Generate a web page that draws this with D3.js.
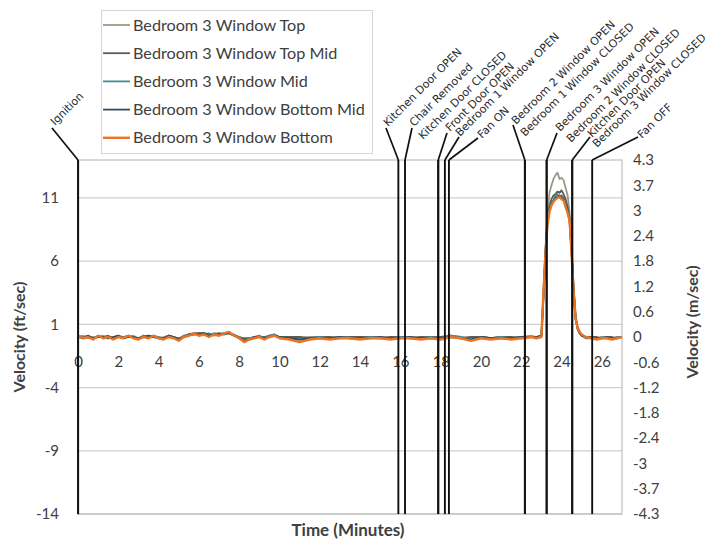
<!DOCTYPE html>
<html>
<head>
<meta charset="utf-8">
<script src="https://cdn.jsdelivr.net/npm/d3@7"></script>
<style>
  body { margin: 0; background: #fff; }
  svg { display: block; }
</style>
</head>
<body>
<svg id="chart" width="708" height="546"></svg>
<script>
// ---- data ----
const seriesNames = [
  "Bedroom 3 Window Top",
  "Bedroom 3 Window Top Mid",
  "Bedroom 3 Window Mid",
  "Bedroom 3 Window Bottom Mid",
  "Bedroom 3 Window Bottom"
];

// sample times (minutes)
const times = [
  0,0.25,0.5,0.75,1,1.25,1.5,1.75,2,2.25,2.5,2.75,3,3.25,3.5,3.75,4,4.25,4.5,4.75,
  5,5.25,5.5,5.75,6,6.25,6.5,6.75,7,7.25,7.5,7.75,8,8.25,8.5,8.75,9,9.25,9.5,9.75,10,
  10.5,11,11.5,12,12.5,13,13.5,14,14.5,15,15.5,16,16.5,17,17.5,18,18.5,19,19.5,20,20.5,21,21.5,22,22.5,
  22.75,23,23.1,23.2,23.3,23.4,23.5,23.6,23.7,23.8,23.9,24,24.1,24.2,24.3,24.4,24.5,24.6,24.7,24.8,24.9,25,25.2,
  25.5,25.75,26,26.25,26.5,26.75,27
];

// velocities (ft/sec)
const windowTop = [
  0.0,0.1,-0.1,0.0,0.0,0.1,-0.1,0.0,0.1,-0.1,0.0,0.1,-0.1,0.0,0.1,0.0,-0.1,0.0,0.1,0.0,
  -0.1,0.1,0.2,0.2,0.3,0.2,0.3,0.1,0.2,0.2,0.3,0.2,0.0,-0.2,-0.1,0.0,0.1,-0.1,0.1,0.2,0.0,
  0.0,-0.1,0.0,0.0,-0.1,0.0,0.0,-0.1,0.0,0.0,-0.1,0.0,0.0,-0.1,0.0,-0.1,0.1,0.0,-0.1,0.0,-0.1,0.0,-0.1,0.0,0.1,
  0.0,0.1,3.6,7.0,9.8,11.4,12.0,12.5,12.8,13.0,12.5,12.6,12.4,11.8,11.2,9.8,7.2,4.0,1.7,0.8,0.4,0.2,0.0,
  0.0,-0.1,0.0,0.0,-0.1,0.0,0.0
];
const windowTopMid = [
  0.0,0.0,0.1,-0.1,0.0,0.0,0.1,-0.1,0.0,0.0,0.1,0.0,-0.1,0.1,0.0,0.0,0.0,-0.1,0.1,0.0,
  -0.1,0.0,0.2,0.3,0.3,0.3,0.2,0.2,0.3,0.2,0.3,0.1,0.0,-0.1,-0.1,0.0,0.0,0.0,0.1,0.1,0.0,
  0.0,0.0,-0.1,0.0,0.0,-0.1,0.0,0.0,0.0,-0.1,0.0,0.0,-0.1,0.0,0.0,0.0,0.1,-0.1,0.0,0.0,-0.1,0.0,0.0,-0.1,0.0,
  0.0,0.1,3.3,6.8,9.3,10.4,10.9,11.2,11.3,11.5,11.4,11.6,11.3,10.9,10.3,9.4,6.8,3.8,1.5,0.7,0.3,0.1,0.0,
  0.0,0.0,-0.1,0.0,0.0,-0.1,0.0
];
const windowMid = [
  0.1,0.0,0.0,-0.1,0.1,0.0,0.0,-0.1,0.1,0.0,0.0,0.0,-0.1,0.1,0.0,0.1,0.0,-0.1,0.1,0.0,
  -0.2,0.1,0.1,0.2,0.2,0.3,0.1,0.3,0.2,0.2,0.3,0.1,0.0,-0.3,-0.1,0.0,0.1,-0.1,0.1,0.2,0.0,
  -0.1,-0.2,-0.1,0.0,-0.1,0.0,-0.1,-0.1,0.0,-0.1,-0.1,0.0,-0.1,-0.1,0.0,-0.1,0.1,0.0,-0.2,0.0,-0.1,0.0,-0.1,0.0,0.0,
  -0.1,0.0,3.2,6.6,9.1,10.3,10.6,10.8,11.2,11.3,11.0,11.2,11.0,10.6,10.1,9.2,6.7,3.6,1.5,0.6,0.3,0.1,-0.1,
  -0.1,-0.1,0.0,-0.1,-0.1,0.0,0.0
];
const windowBottomMid = [
  0.0,-0.1,0.1,-0.1,0.0,0.0,-0.1,0.0,0.1,-0.1,0.0,0.0,-0.1,0.0,0.1,0.0,-0.1,-0.1,0.1,0.0,
  -0.2,0.0,0.2,0.2,0.2,0.3,0.1,0.2,0.2,0.3,0.3,0.1,-0.1,-0.3,-0.2,0.0,0.0,-0.1,0.0,0.1,0.0,
  -0.1,-0.2,-0.1,-0.1,-0.1,0.0,-0.1,-0.1,-0.1,0.0,-0.1,-0.1,0.0,-0.1,-0.1,-0.1,0.0,-0.1,-0.2,0.0,-0.1,-0.1,-0.1,0.0,0.0,
  0.0,0.1,3.0,6.4,8.9,10.1,10.5,10.8,11.0,11.1,11.2,11.0,10.9,10.5,10.0,9.1,6.6,3.5,1.4,0.6,0.3,0.1,0.0,
  0.0,-0.1,-0.1,0.0,-0.1,-0.1,0.0
];
const windowBottom = [
  0.1,-0.1,0.0,-0.2,0.1,-0.1,0.0,-0.2,0.0,-0.1,0.1,-0.1,-0.2,0.0,-0.1,0.1,-0.1,-0.2,0.0,-0.1,
  -0.3,0.0,0.1,0.3,0.1,0.2,0.0,0.2,0.1,0.3,0.4,0.1,-0.1,-0.4,-0.2,-0.1,0.0,-0.2,0.0,0.1,-0.1,
  -0.2,-0.4,-0.2,-0.1,-0.2,-0.1,-0.1,-0.2,-0.1,-0.1,-0.2,-0.1,-0.1,-0.2,-0.1,-0.2,0.0,-0.1,-0.3,-0.1,-0.2,-0.1,-0.2,-0.1,0.0,
  -0.1,0.0,3.4,6.5,8.9,9.9,10.4,10.7,10.9,11.0,11.1,10.9,10.8,10.3,9.8,9.2,6.5,3.5,1.4,0.7,0.4,0.2,0.0,
  -0.1,-0.2,-0.1,-0.1,-0.2,-0.1,0.0
];
const seriesValues = [windowTop, windowTopMid, windowMid, windowBottomMid, windowBottom];

// event timeline (minutes)
const eventTimes = [0, 15.9, 16.23, 17.88, 17.88, 18.21, 18.41, 22.18, 22.18, 23.26, 23.26, 24.53, 24.53, 25.52];
const eventLabels = [
  "Ignition", "Kitchen Door OPEN", "Chair Removed", "Kitchen Door CLOSED", "Front Door OPEN",
  "Bedroom 1 Window OPEN", "Fan ON", "Bedroom 2 Window OPEN", "Bedroom 1 Window CLOSED",
  "Bedroom 3 Window OPEN", "Bedroom 2 Window CLOSED", "Kitchen Door OPEN",
  "Bedroom 3 Window CLOSED", "Fan OFF"
];

// axis ticks
const xTicks = [0, 2, 4, 6, 8, 10, 12, 14, 16, 18, 20, 22, 24, 26];
const leftTicks = [-14, -9, -4, 1, 6, 11];
const rightTickLabels = ["-4.3","-3.7","-3","-2.4","-1.8","-1.2","-0.6","0","0.6","1.2","1.8","2.4","3","3.7","4.3"];

// ---- styling / layout ----
const colors = ["#9a9a88", "#5c5c52", "#3f8c95", "#34495e", "#ec7424"];
const widths = [1.8, 1.8, 1.8, 1.8, 2.4];

// callout layout: text start point and leader end point (px); null = no leader
const calloutText = [
  [55,126],[388,127],[414,127],[423,140],[450,132],[460,137],[482,139],
  [516,125],[525,137],[560,132],[571,143],[592,138],[597,148],[642,139]
];
const calloutLeader = [
  [52,128],[386,128],[412,128],null,[447,133],[459,137],[478,138],
  [513,125],null,[557,133],null,[590,137],null,[638,137]
];

const M = { left: 78, right: 622, top: 160, bottom: 514 };
const FT_TO_M = 0.3048;

const svg = d3.select("#chart");
const x = d3.scaleLinear().domain([0, 27]).range([M.left, M.right]);
const yL = d3.scaleLinear().domain([-14, 14]).range([M.bottom, M.top]);
const yR = d3.scaleLinear().domain([-14 * FT_TO_M, 14 * FT_TO_M]).range([M.bottom, M.top]);

const tickFont = "Lato, 'Open Sans', sans-serif";

// gridlines and plot frame
svg.append("g").selectAll("line").data(leftTicks).join("line")
  .attr("x1", M.left).attr("x2", M.right)
  .attr("y1", d => yL(d)).attr("y2", d => yL(d))
  .attr("stroke", "#cfcfcf").attr("stroke-width", 1.3);
svg.append("rect")
  .attr("x", M.left).attr("y", M.top)
  .attr("width", M.right - M.left).attr("height", M.bottom - M.top)
  .attr("fill", "none").attr("stroke", "#c4c4c4").attr("stroke-width", 1.3);

// left axis
const axL = svg.append("g").attr("transform", `translate(${M.left},0)`)
  .call(d3.axisLeft(yL).tickValues(leftTicks).tickSize(0).tickPadding(19).tickFormat(d => String(d)));
axL.select(".domain").attr("stroke", "#555").attr("stroke-width", 1.3);

// right axis (m/sec): one tick per 2 ft/sec
const rightTickValues = rightTickLabels.map((_, i) => (i - 7) * 2 * FT_TO_M);
const axR = svg.append("g").attr("transform", `translate(${M.right},0)`)
  .call(d3.axisRight(yR).tickValues(rightTickValues).tickSize(0).tickPadding(11)
    .tickFormat((d, i) => rightTickLabels[i]));
axR.select(".domain").remove();

// bottom axis, crossing at zero
const axB = svg.append("g").attr("transform", `translate(0,${yL(0)})`)
  .call(d3.axisBottom(x).tickValues(xTicks).tickSize(0).tickPadding(19).tickFormat(d => String(d)));
axB.select(".domain").remove();

[axL, axR, axB].forEach(g => g.selectAll("text")
  .attr("font-family", tickFont).attr("font-size", 15).attr("fill", "#404040"));

// velocity traces
const line = d3.line().x((d, i) => x(times[i])).y(d => yL(d));
svg.append("g").selectAll("path").data(seriesValues).join("path")
  .attr("d", d => line(d))
  .attr("fill", "none")
  .attr("stroke", (d, i) => colors[i])
  .attr("stroke-width", (d, i) => widths[i])
  .attr("stroke-linejoin", "round");

// event markers
const ev = svg.append("g");
ev.selectAll("line.evt").data(eventTimes).join("line").attr("class", "evt")
  .attr("x1", d => x(d)).attr("x2", d => x(d))
  .attr("y1", M.top).attr("y2", M.bottom)
  .attr("stroke", "#111").attr("stroke-width", 1.9);
ev.selectAll("line.leader").data(eventTimes.map((t, i) => ({ t, end: calloutLeader[i] })).filter(d => d.end))
  .join("line").attr("class", "leader")
  .attr("x1", d => x(d.t)).attr("y1", M.top)
  .attr("x2", d => d.end[0]).attr("y2", d => d.end[1])
  .attr("stroke", "#111").attr("stroke-width", 1.7);
ev.selectAll("text").data(eventLabels).join("text")
  .attr("transform", (d, i) => `translate(${calloutText[i][0]},${calloutText[i][1]}) rotate(-45)`)
  .attr("font-family", "'DejaVu Sans', Verdana, sans-serif")
  .attr("font-size", 11)
  .attr("fill", "#2a2a2a")
  .text(d => d);

// axis titles
const titleFont = "Lato, 'Open Sans', sans-serif";
svg.append("text").attr("transform", "translate(25,337) rotate(-90)")
  .attr("text-anchor", "middle").attr("font-family", titleFont).attr("font-weight", "bold")
  .attr("font-size", 16).attr("fill", "#404040").text("Velocity (ft/sec)");
svg.append("text").attr("transform", "translate(698,322) rotate(-90)")
  .attr("text-anchor", "middle").attr("font-family", titleFont).attr("font-weight", "bold")
  .attr("font-size", 16).attr("fill", "#404040").text("Velocity (m/sec)");
svg.append("text").attr("x", 348).attr("y", 536)
  .attr("text-anchor", "middle").attr("font-family", titleFont).attr("font-weight", "bold")
  .attr("font-size", 17).attr("fill", "#404040").text("Time (Minutes)");

// legend
const lg = svg.append("g");
lg.append("rect").attr("x", 101.5).attr("y", 10.5).attr("width", 271).attr("height", 143)
  .attr("fill", "#fff").attr("stroke", "#d6d6d6");
const items = lg.selectAll("g").data(seriesNames).join("g")
  .attr("transform", (d, i) => `translate(0,${25 + i * 28.2})`);
items.append("line").attr("x1", 103).attr("x2", 130).attr("y1", 0).attr("y2", 0)
  .attr("stroke", (d, i) => colors[i]).attr("stroke-width", (d, i) => widths[i]);
items.append("text").attr("x", 133).attr("y", 0).attr("dy", "0.35em")
  .attr("font-family", tickFont).attr("font-size", 16.2).attr("fill", "#404040")
  .text(d => d);
</script>
</body>
</html>
